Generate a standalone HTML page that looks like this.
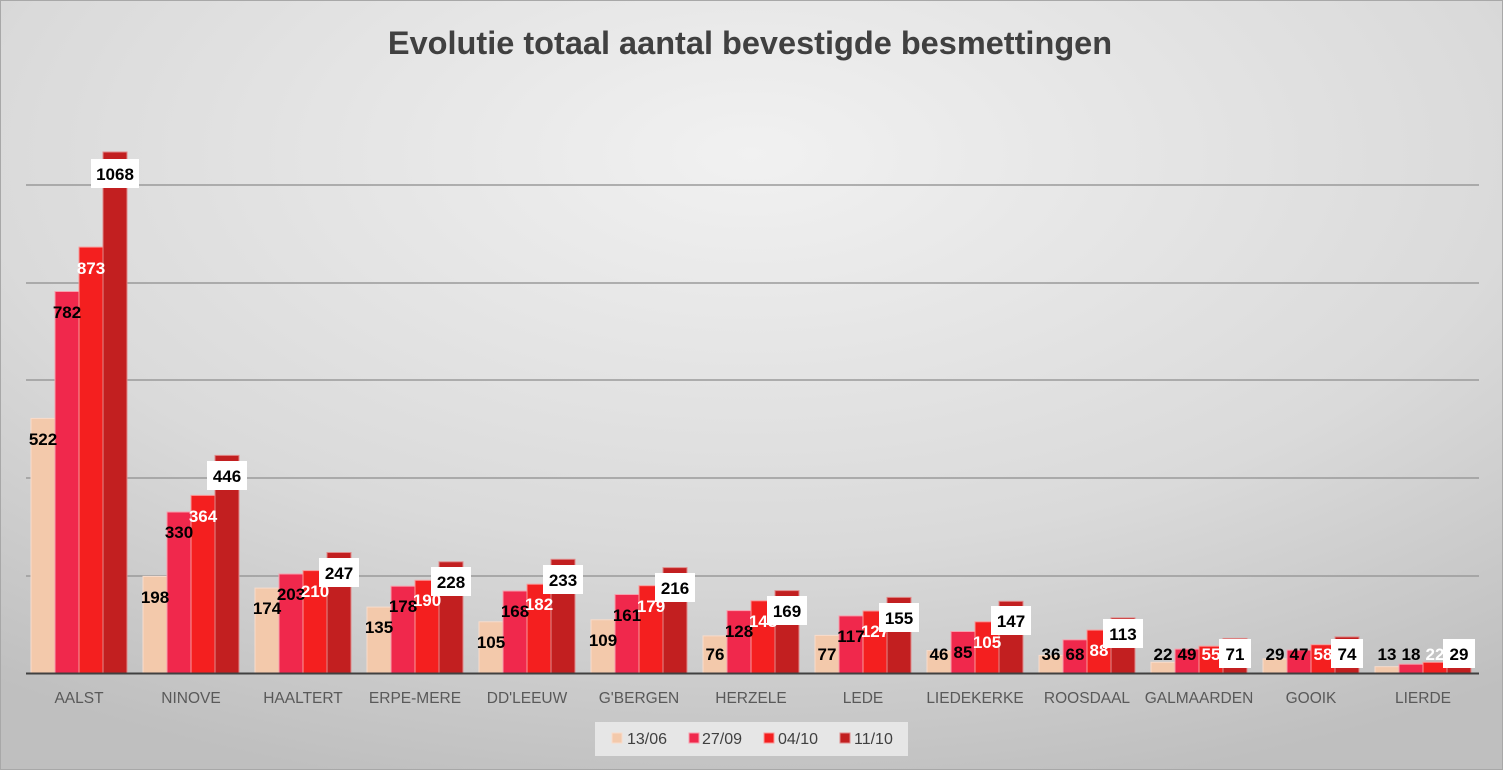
<!DOCTYPE html>
<html><head><meta charset="utf-8"><style>
html,body{margin:0;padding:0;}
body{width:1503px;height:770px;overflow:hidden;}
svg{display:block;font-family:"Liberation Sans",sans-serif;}
.l{font-size:17px;font-weight:bold;text-anchor:middle;fill:#000}
.w{fill:#fff}
.c{font-size:15.5px;fill:#595959;text-anchor:middle}
.a{fill:#f3c9ab;stroke:#f8dccb;stroke-width:1}
.b{fill:#f0284c;stroke:#f7a0ae;stroke-width:1}
.d{fill:#f41f1f;stroke:#f99a9a;stroke-width:1}
.e{fill:#c21f20;stroke:#e08a8a;stroke-width:1}
</style></head><body>
<svg width="1503" height="770" viewBox="0 0 1503 770">
<defs>
<radialGradient id="bg" cx="0.5" cy="0.2" r="0.85">
<stop offset="0" stop-color="#f1f1f1"/><stop offset="0.6" stop-color="#dadada"/><stop offset="1" stop-color="#bfbfbf"/>
</radialGradient>
</defs>
<rect x="0" y="0" width="1503" height="770" fill="url(#bg)"/>
<rect x="0.5" y="0.5" width="1502" height="769" fill="none" stroke="#a8a8a8"/>
<text x="750" y="54" font-size="32.5" font-weight="bold" fill="#404040" text-anchor="middle">Evolutie totaal aantal bevestigde besmettingen</text>
<g stroke="#9a9a9a" stroke-width="1.5">
<line x1="26" x2="1479" y1="185" y2="185"/><line x1="26" x2="1479" y1="283" y2="283"/>
<line x1="26" x2="1479" y1="380" y2="380"/><line x1="26" x2="1479" y1="478" y2="478"/>
<line x1="26" x2="1479" y1="576" y2="576"/>
</g>
<g>
<rect class="a" x="31" y="418.4" width="24" height="254.6"/><rect class="b" x="55" y="291.5" width="24" height="381.5"/><rect class="d" x="79" y="247.1" width="24" height="425.9"/><rect class="e" x="103" y="152" width="24" height="521"/>
<rect class="a" x="143" y="576.4" width="24" height="96.6"/><rect class="b" x="167" y="512" width="24" height="161"/><rect class="d" x="191" y="495.4" width="24" height="177.6"/><rect class="e" x="215" y="455.4" width="24" height="217.6"/>
<rect class="a" x="255" y="588.1" width="24" height="84.9"/><rect class="b" x="279" y="574" width="24" height="99"/><rect class="d" x="303" y="570.6" width="24" height="102.4"/><rect class="e" x="327" y="552.5" width="24" height="120.5"/>
<rect class="a" x="367" y="607.1" width="24" height="65.9"/><rect class="b" x="391" y="586.2" width="24" height="86.8"/><rect class="d" x="415" y="580.3" width="24" height="92.7"/><rect class="e" x="439" y="561.8" width="24" height="111.2"/>
<rect class="a" x="479" y="621.8" width="24" height="51.2"/><rect class="b" x="503" y="591" width="24" height="82"/><rect class="d" x="527" y="584.2" width="24" height="88.8"/><rect class="e" x="551" y="559.3" width="24" height="113.7"/>
<rect class="a" x="591" y="619.8" width="24" height="53.2"/><rect class="b" x="615" y="594.5" width="24" height="78.5"/><rect class="d" x="639" y="585.7" width="24" height="87.3"/><rect class="e" x="663" y="567.6" width="24" height="105.4"/>
<rect class="a" x="703" y="635.9" width="24" height="37.1"/><rect class="b" x="727" y="610.6" width="24" height="62.4"/><rect class="d" x="751" y="600.8" width="24" height="72.2"/><rect class="e" x="775" y="590.6" width="24" height="82.4"/>
<rect class="a" x="815" y="635.4" width="24" height="37.6"/><rect class="b" x="839" y="615.9" width="24" height="57.1"/><rect class="d" x="863" y="611" width="24" height="62"/><rect class="e" x="887" y="597.4" width="24" height="75.6"/>
<rect class="a" x="927" y="650.6" width="24" height="22.4"/><rect class="b" x="951" y="631.5" width="24" height="41.5"/><rect class="d" x="975" y="621.8" width="24" height="51.2"/><rect class="e" x="999" y="601.3" width="24" height="71.7"/>
<rect class="a" x="1039" y="655.4" width="24" height="17.6"/><rect class="b" x="1063" y="639.8" width="24" height="33.2"/><rect class="d" x="1087" y="630.1" width="24" height="42.9"/><rect class="e" x="1111" y="617.9" width="24" height="55.1"/>
<rect class="a" x="1151" y="662.3" width="24" height="10.7"/><rect class="b" x="1175" y="649.1" width="24" height="23.9"/><rect class="d" x="1199" y="646.2" width="24" height="26.8"/><rect class="e" x="1223" y="638.4" width="24" height="34.6"/>
<rect class="a" x="1263" y="658.9" width="24" height="14.1"/><rect class="b" x="1287" y="650.1" width="24" height="22.9"/><rect class="d" x="1311" y="644.7" width="24" height="28.3"/><rect class="e" x="1335" y="636.9" width="24" height="36.1"/>
<rect class="a" x="1375" y="666.7" width="24" height="6.3"/><rect class="b" x="1399" y="664.2" width="24" height="8.8"/><rect class="d" x="1423" y="662.3" width="24" height="10.7"/><rect class="e" x="1447" y="658.9" width="24" height="14.1"/>
</g>
<line x1="26" x2="1479" y1="673.5" y2="673.5" stroke="#404040" stroke-width="2"/>
<g fill="#fff">
<rect x="91" y="159" width="48" height="29"/>
<rect x="207" y="461" width="40" height="29"/>
<rect x="319" y="558" width="40" height="29"/>
<rect x="431" y="567" width="40" height="29"/>
<rect x="543" y="565" width="40" height="29"/>
<rect x="655" y="573" width="40" height="29"/>
<rect x="767" y="596" width="40" height="29"/>
<rect x="879" y="603" width="40" height="29"/>
<rect x="991" y="606" width="40" height="29"/>
<rect x="1103" y="619" width="40" height="29"/>
<rect x="1219" y="639" width="32" height="29"/>
<rect x="1331" y="639" width="32" height="29"/>
<rect x="1443" y="639" width="32" height="29"/>
</g>
<g class="l">
<text x="43" y="445">522</text><text x="67" y="318">782</text><text class="l w" x="91" y="274">873</text><text x="115" y="180">1068</text>
<text x="155" y="603">198</text><text x="179" y="538">330</text><text class="l w" x="203" y="522">364</text><text x="227" y="482">446</text>
<text x="267" y="614">174</text><text x="291" y="600">203</text><text class="l w" x="315" y="597">210</text><text x="339" y="579">247</text>
<text x="379" y="633">135</text><text x="403" y="612">178</text><text class="l w" x="427" y="606">190</text><text x="451" y="588">228</text>
<text x="491" y="648">105</text><text x="515" y="617">168</text><text class="l w" x="539" y="610">182</text><text x="563" y="586">233</text>
<text x="603" y="646">109</text><text x="627" y="621">161</text><text class="l w" x="651" y="612">179</text><text x="675" y="594">216</text>
<text x="715" y="660">76</text><text x="739" y="637">128</text><text class="l w" x="763" y="627">148</text><text x="787" y="617">169</text>
<text x="827" y="660">77</text><text x="851" y="642">117</text><text class="l w" x="875" y="637">127</text><text x="899" y="624">155</text>
<text x="939" y="660">46</text><text x="963" y="658">85</text><text class="l w" x="987" y="648">105</text><text x="1011" y="627">147</text>
<text x="1051" y="660">36</text><text x="1075" y="660">68</text><text class="l w" x="1099" y="656">88</text><text x="1123" y="640">113</text>
<text x="1163" y="660">22</text><text x="1187" y="660">49</text><text class="l w" x="1211" y="660">55</text><text x="1235" y="660">71</text>
<text x="1275" y="660">29</text><text x="1299" y="660">47</text><text class="l w" x="1323" y="660">58</text><text x="1347" y="660">74</text>
<text x="1387" y="660">13</text><text x="1411" y="660">18</text><text class="l w" x="1435" y="660">22</text><text x="1459" y="660">29</text>
</g>
<g class="c">
<text x="79" y="703">AALST</text><text x="191" y="703">NINOVE</text><text x="303" y="703">HAALTERT</text><text x="415" y="703">ERPE-MERE</text>
<text x="527" y="703">DD'LEEUW</text><text x="639" y="703">G'BERGEN</text><text x="751" y="703">HERZELE</text><text x="863" y="703">LEDE</text>
<text x="975" y="703">LIEDEKERKE</text><text x="1087" y="703">ROOSDAAL</text><text x="1199" y="703">GALMAARDEN</text><text x="1311" y="703">GOOIK</text>
<text x="1423" y="703">LIERDE</text>
</g>
<rect x="595" y="722" width="313" height="34" fill="#e6e6e6"/>
<rect class="a" x="612" y="733" width="10" height="10"/><rect class="b" x="689" y="733" width="10" height="10"/>
<rect class="d" x="764" y="733" width="10" height="10"/><rect class="e" x="840" y="733" width="10" height="10"/>
<g font-size="16" fill="#404040">
<text x="627" y="744">13/06</text><text x="702" y="744">27/09</text><text x="778" y="744">04/10</text><text x="854" y="744">11/10</text>
</g>
</svg>
</body></html>
